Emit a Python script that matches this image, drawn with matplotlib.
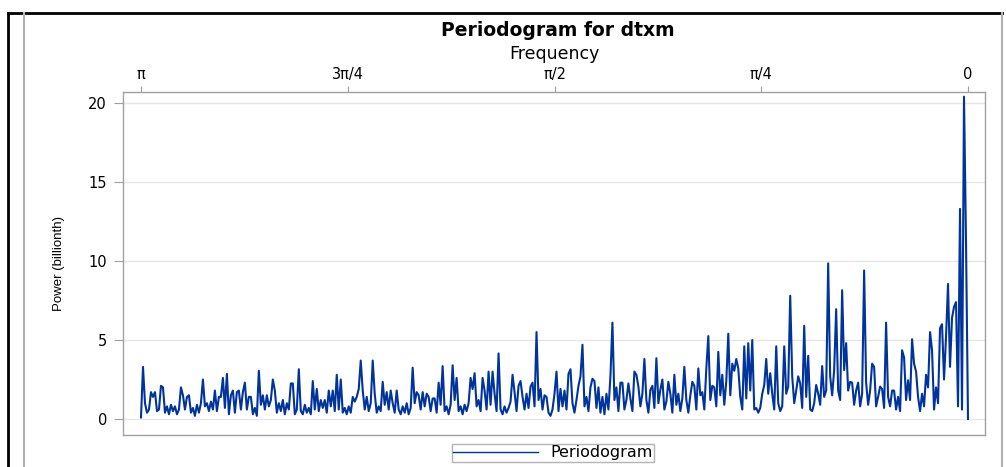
import numpy as np
import matplotlib
matplotlib.use("Agg")
import matplotlib.pyplot as plt
from matplotlib.lines import Line2D

# periodogram ordinates, from frequency pi (left) down to 0 (right)
power = [
    0.1, 3.3, 1.0, 0.4, 0.6, 1.7, 1.4, 1.7, 0.5, 0.6, 2.1, 2.0, 0.4, 0.8, 0.3, 0.9, 0.5, 0.8, 0.3, 0.6,
    2.0, 1.5, 0.6, 1.4, 1.5, 0.4, 0.7, 0.2, 0.9, 0.4, 1.0, 2.5, 0.8, 1.0, 0.5, 1.1, 0.6, 1.8, 0.5, 1.4,
    1.4, 2.6, 0.7, 2.85, 0.3, 1.5, 1.8, 0.4, 1.7, 1.8, 0.6, 1.7, 2.3, 0.6, 1.4, 1.4, 0.3, 0.7, 0.2, 3.05,
    0.9, 1.5, 0.6, 1.5, 0.8, 1.2, 2.5, 1.8, 0.4, 1.0, 0.5, 1.2, 0.3, 1.0, 0.6, 2.25, 2.25, 0.3, 0.6, 3.15,
    0.5, 0.3, 0.9, 0.4, 0.7, 0.3, 2.4, 0.6, 1.9, 0.5, 1.2, 0.7, 1.2, 0.4, 1.8, 0.8, 1.8, 0.5, 2.8, 0.6,
    2.5, 0.4, 0.7, 0.3, 0.8, 0.4, 1.4, 1.1, 1.4, 1.9, 3.7, 1.8, 0.6, 1.4, 0.5, 1.0, 3.7, 1.6, 0.4, 0.8,
    0.5, 2.35, 0.9, 1.7, 0.6, 1.8, 1.0, 0.4, 1.8, 0.6, 0.3, 0.8, 0.4, 1.0, 0.3, 0.7, 3.25, 1.0, 1.7, 1.5,
    0.6, 1.7, 0.8, 1.6, 1.4, 0.5, 1.3, 1.3, 0.4, 2.3, 0.9, 3.35, 0.5, 0.8, 0.3, 0.9, 3.4, 1.2, 2.6, 0.5,
    0.8, 0.3, 0.9, 0.5, 1.0, 2.6, 1.9, 2.9, 0.8, 1.2, 0.5, 2.6, 1.8, 0.6, 3.0, 0.9, 3.0, 1.6, 0.5, 4.15,
    0.6, 0.3, 0.8, 0.4, 0.7, 1.1, 2.8, 1.7, 0.5, 2.1, 2.4, 1.4, 0.6, 1.6, 0.7, 2.05, 2.3, 0.8, 5.5, 1.2,
    1.9, 0.6, 1.5, 1.4, 0.4, 0.2, 0.6, 1.6, 3.0, 0.5, 1.9, 0.8, 1.8, 0.6, 2.85, 3.15, 1.0, 0.4, 1.2, 2.1,
    2.7, 4.7, 0.8, 1.4, 0.5, 2.0, 2.55, 2.4, 0.7, 2.0, 0.4, 1.4, 0.3, 1.6, 0.6, 2.7, 6.1, 1.2, 2.0, 0.5,
    2.3, 2.3, 0.6, 1.2, 2.25, 1.3, 0.5, 3.0, 2.8, 2.05, 0.8, 1.6, 3.8, 1.2, 0.4, 1.85, 2.1, 0.7, 3.85, 1.0,
    1.85, 2.5, 0.6, 1.1, 2.35, 1.6, 0.4, 2.8, 0.9, 1.6, 0.5, 1.3, 3.3, 1.2, 0.4, 1.5, 2.35, 2.1, 0.6, 3.2,
    1.5, 1.7, 0.6, 3.2, 5.25, 1.2, 2.1, 2.0, 0.8, 4.25, 1.5, 2.8, 0.9, 2.4, 5.4, 1.5, 3.5, 3.05, 3.8, 3.2,
    1.4, 0.6, 4.6, 1.3, 4.8, 1.8, 5.0, 0.6, 0.7, 0.4, 0.7, 1.6, 2.15, 3.8, 1.6, 2.9, 1.6, 0.6, 4.6, 1.0,
    0.5, 0.8, 4.6, 1.6, 2.05, 7.8, 2.7, 1.0, 1.8, 2.7, 2.25, 0.7, 5.9, 1.4, 4.0, 0.6, 0.5, 1.0, 2.15, 1.6,
    0.9, 3.35, 1.4, 1.8, 9.85, 2.7, 1.5, 3.1, 6.95, 1.8, 1.2, 8.15, 3.1, 4.8, 1.8, 2.35, 2.3, 0.9, 1.8, 2.3,
    0.8, 1.6, 9.4, 2.3, 0.9, 1.8, 3.5, 3.3, 0.8, 1.4, 2.05, 1.9, 0.7, 6.1, 1.4, 0.8, 1.8, 1.8, 0.6, 1.4,
    0.5, 4.35, 3.9, 1.2, 2.45, 1.2, 5.05, 3.5, 3.0, 1.4, 0.5, 1.6, 0.8, 2.8, 2.0, 5.5, 4.35, 0.6, 2.0, 1.0,
    5.75, 6.0, 2.5, 5.2, 8.55, 3.3, 6.4, 7.1, 7.4, 0.8, 13.3, 0.6, 20.4, 11.3, 0.0,
]
# Fourier frequencies are evenly spaced between pi and 0
freq = np.linspace(np.pi, 0, len(power))

xtick_vals = [np.pi, 3 * np.pi / 4, np.pi / 2, np.pi / 4, 0]
xtick_labels = ["π", "3π/4", "π/2", "π/4", "0"]
ytick_vals = [0, 5, 10, 15, 20]

W, H = 1006, 467
fig = plt.figure(figsize=(W / 100, H / 100), dpi=100)
plt.rcParams["font.family"] = ["DejaVu Sans"]

ax = fig.add_axes([123 / W, 1 - 435 / H, 862 / W, 343 / H])
ax.plot(freq, power, color="#00349a", lw=1.5, label="Periodogram")

ax.set_xlim(np.pi * (968 - 123) / 827, np.pi * (968 - 985) / 827)
ax.set_ylim((419 - 435) / 15.8, (419 - 92) / 15.8)

ax.xaxis.tick_top()
ax.xaxis.set_label_position("top")
ax.set_xticks(xtick_vals)
ax.set_xticklabels(xtick_labels, fontsize=10.5)
ax.set_yticks(ytick_vals)
ax.set_yticklabels([str(v) for v in ytick_vals], fontsize=10.5)
ax.tick_params(axis="x", length=4, color="#a0a0a0", pad=3)
ax.tick_params(axis="y", length=6.5, color="#a0a0a0", pad=5)
ax.set_xlabel("Frequency", fontsize=12.5, labelpad=6)
ax.set_ylabel("Power (billionth)", family="Liberation Sans", fontsize=9.5, labelpad=17)
ax.grid(axis="y", color="#e6e6e6", lw=1)
ax.set_axisbelow(True)
for s in ax.spines.values():
    s.set_color("#a0a0a0")
    s.set_linewidth(1)

fig.text(558 / W, 1 - 31 / H, "Periodogram for dtxm", ha="center", va="center",
         fontsize=13.5, fontweight="bold")

leg = fig.legend(loc="center", bbox_to_anchor=(553 / W, 1 - 453 / H), fontsize=11.5,
                 handlelength=5.3, handletextpad=0.75, borderpad=0.1, fancybox=False)
leg.get_frame().set_edgecolor("#a0a0a0")
leg.get_frame().set_linewidth(1)
leg.get_lines()[0].set_linewidth(1.0)

# page frame: black top/left rules and grey panel edges
fig.add_artist(Line2D([8 / W, 1002 / W], [1 - 13 / H, 1 - 13 / H], color="black", lw=2))
fig.add_artist(Line2D([8 / W, 8 / W], [0, 1 - 13 / H], color="black", lw=2))
fig.add_artist(Line2D([24 / W, 24 / W], [0, 1 - 13 / H], color="#b0b0b0", lw=1.5))
fig.add_artist(Line2D([1002 / W, 1002 / W], [0, 1 - 13 / H], color="#b0b0b0", lw=1.5))

fig.savefig("out.png", dpi=100)
